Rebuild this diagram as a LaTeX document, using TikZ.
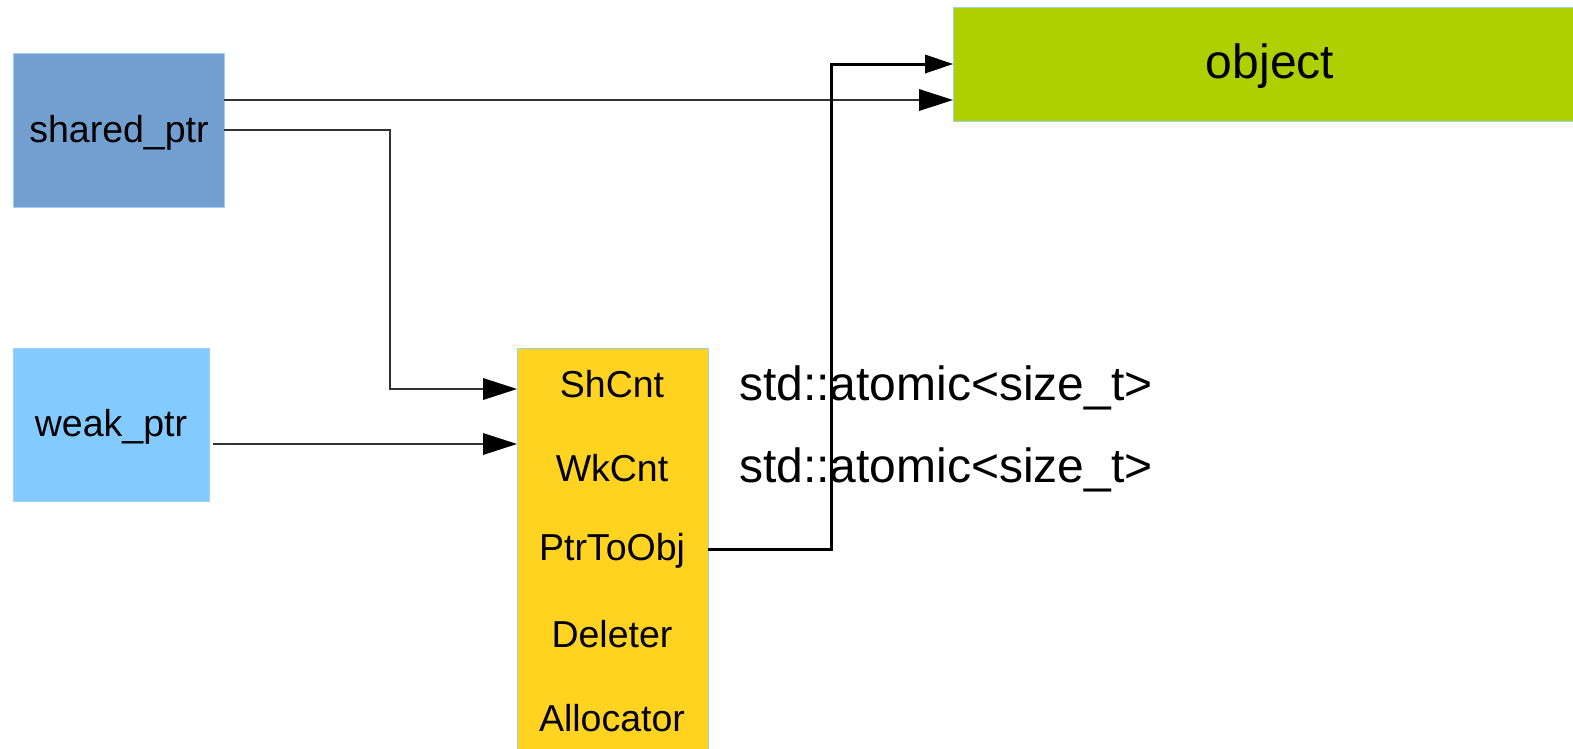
\documentclass[tikz,border=0pt]{standalone}
\usepackage{fontspec}
\setmainfont{Liberation Sans}
\usetikzlibrary{arrows.meta}
\definecolor{sharedc}{HTML}{729FCF}
\definecolor{weakc}{HTML}{83CAFF}
\definecolor{ctrlc}{HTML}{FFD320}
\definecolor{objc}{HTML}{AFD000}
\definecolor{edgec}{HTML}{9FD0F5}
\definecolor{thinc}{HTML}{333333}
\tikzset{
  box/.style={draw=edgec, line width=1pt, inner sep=0pt, outer sep=0pt},
  lbl/.style={font=\fontsize{37.5}{40}\selectfont, inner sep=0pt, anchor=center},
  big/.style={font=\fontsize{48}{52}\selectfont, inner sep=0pt},
  thinarr/.style={draw=thinc, line width=1.2pt, -{Triangle[length=34pt,width=22pt,color=black,line width=0pt]}},
  thickarr/.style={draw=black, line width=3pt, -{Triangle[length=28pt,width=19pt,color=black,line width=0pt]}},
}
\begin{document}
\begin{tikzpicture}[x=1pt,y=-1pt]
\useasboundingbox (0,0) rectangle (1573,748);
\clip (0,0) rectangle (1573,748);
\fill[white] (0,0) rectangle (1573,748);
% boxes
\draw[box, fill=sharedc] (13,53) rectangle (224,207);
\node[lbl] (shared) at (119,133) {shared\_ptr};
\draw[box, fill=weakc] (13,348) rectangle (209,501);
\node[lbl] (weak) at (111,427) {weak\_ptr};
\draw[box, fill=ctrlc] (517,348) rectangle (708,770);
\draw[box, fill=objc] (953,7) rectangle (1600,121);
\node[big] (obj) at (1270,66) {object};
% control block labels
\node[lbl] (sh)  at (612,384) {ShCnt};
\node[lbl] (wk)  at (612,468) {WkCnt};
\node[lbl] (ptr) at (612,551) {PtrToObj};
\node[lbl] (del) at (612,634) {Deleter};
\node[lbl] (alc) at (612,718) {Allocator};
% side texts
\node[big, anchor=west] (at1) at (739,388) {std::atomic<size\_t>};
\node[big, anchor=west] (at2) at (739,470) {std::atomic<size\_t>};
% anchor coordinates
\coordinate (sA) at (224,100);
\coordinate (sB) at (224,130);
\coordinate (objA) at (953,100);
\coordinate (objB) at (953,64);
\coordinate (shIn) at (517,389);
\coordinate (wkOut) at (213,444);
\coordinate (wkIn) at (517,444);
\coordinate (ptrOut) at (708,549);
\coordinate (bend) at (390,130);
\coordinate (pbend) at (831,549);
% connectors
\draw[thinarr] (sA) -- (objA);
\draw[thinarr] (sB) -- (bend) |- (shIn);
\draw[thinarr] (wkOut) -- (wkIn);
\draw[thickarr] (ptrOut) -- (pbend) |- (objB);
\end{tikzpicture}
\end{document}
